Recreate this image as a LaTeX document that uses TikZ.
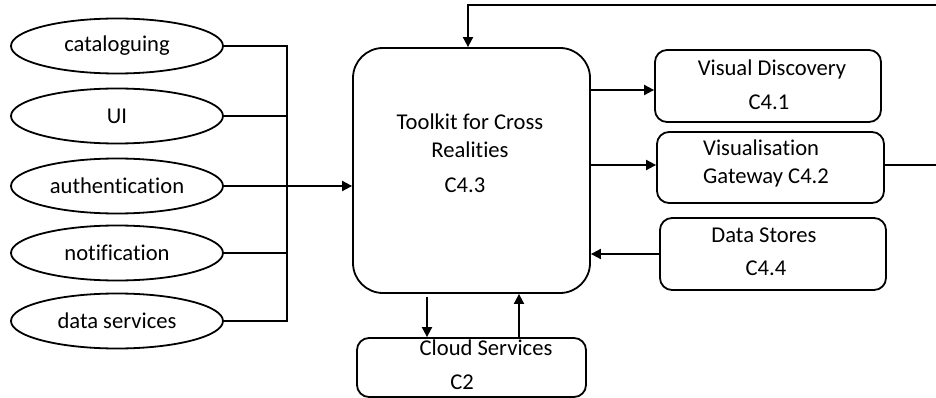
\documentclass[tikz,border=0pt]{standalone}
\usepackage{fontspec}
\setmainfont{Carlito}[Ligatures=NoCommon]
\usetikzlibrary{shapes.geometric,arrows.meta}
\begin{document}
\begin{tikzpicture}[x=1pt,y=-1pt,
  every node/.style={font=\fontsize{22.6}{26}\selectfont},
  lw/.style={line width=1.8pt},
  oval/.style={ellipse,draw,lw,minimum width=212pt,minimum height=55pt,inner sep=0pt},
  box/.style={rectangle,draw,lw,rounded corners=12pt,inner sep=0pt},
  txt/.style={inner sep=0pt,text height=0.68em,text depth=0.2em},
  arr/.style={lw,-{Triangle[length=10pt,width=10pt]}},
  conn/.style={lw}]
\useasboundingbox (0,0) rectangle (936,398);
% ellipses
\node[oval] (cat) at (117,46) {cataloguing};
\node[oval] (ui) at (117,116) {UI};
\node[oval] (auth) at (117,186) {authentication};
\node[oval] (notif) at (117,253) {notification};
\node[oval] (dsv) at (117,321) {data services};
% boxes
\node[box,rounded corners=30pt,minimum width=237pt,minimum height=245pt] (tk) at (471.5,170.5) {};
\node[box,minimum width=226pt,minimum height=72pt] (vd) at (768,86) {};
\node[box,minimum width=227pt,minimum height=71pt] (vg) at (770.5,167.5) {};
\node[box,minimum width=226pt,minimum height=72pt] (ds) at (773,254) {};
\node[box,minimum width=229pt,minimum height=59pt] (cs) at (471.5,367.5) {};
% texts
\node[txt] (tk1) at (470,127) {Toolkit for Cross};
\node[txt] (tk2) at (470,155) {Realities};
\node[txt] (tk3) at (465,190) {C4.3};
\node[txt] (vd1) at (772,73) {Visual Discovery};
\node[txt] (vd2) at (769,107) {C4.1};
\node[txt,anchor=west] (vg1) at (703,153) {Visualisation};
\node[txt,anchor=west] (vg2) at (703,181) {Gateway C4.2};
\node[txt] (ds1) at (764,240) {Data Stores};
\node[txt] (ds2) at (766,273) {C4.4};
\node[txt] (cs1) at (486,353) {Cloud Services};
\node[txt] (cs2) at (462,387) {C2};
% bus
\coordinate (bt) at (287,46);
\coordinate (bb) at (287,321);
\draw[conn] (cat.east) -- (bt) -- (bb) -- (dsv.east);
\draw[conn] (ui.east) -- (ui.east -| bt);
\draw[conn] (notif.east) -- (notif.east -| bt);
\draw[arr] (auth.east) -- (auth.east -| tk.west);
% right side
\coordinate (p1) at (590,90);
\coordinate (p2) at (590,165);
\draw[arr] (p1) -- (p1 -| vd.west);
\draw[arr] (p2) -- (p2 -| vg.west);
\draw[arr] (ds.west) -- (ds.west -| tk.east);
% loop (its right leg lies just beyond the picture's edge)
\coordinate (r1) at (938,165);
\coordinate (r2) at (938,5);
\coordinate (r3) at (468,5);
\draw[arr] (r1 -| vg.east) -- (r1) -- (r2) -- (r3) -- (r3 |- tk.north);
% cloud
\coordinate (c1) at (427,297);
\coordinate (c2) at (519,338);
\draw[arr] (c1) -- (c1 |- cs.north);
\draw[arr] (c2) -- (c2 |- tk.south);
\end{tikzpicture}
\end{document}
